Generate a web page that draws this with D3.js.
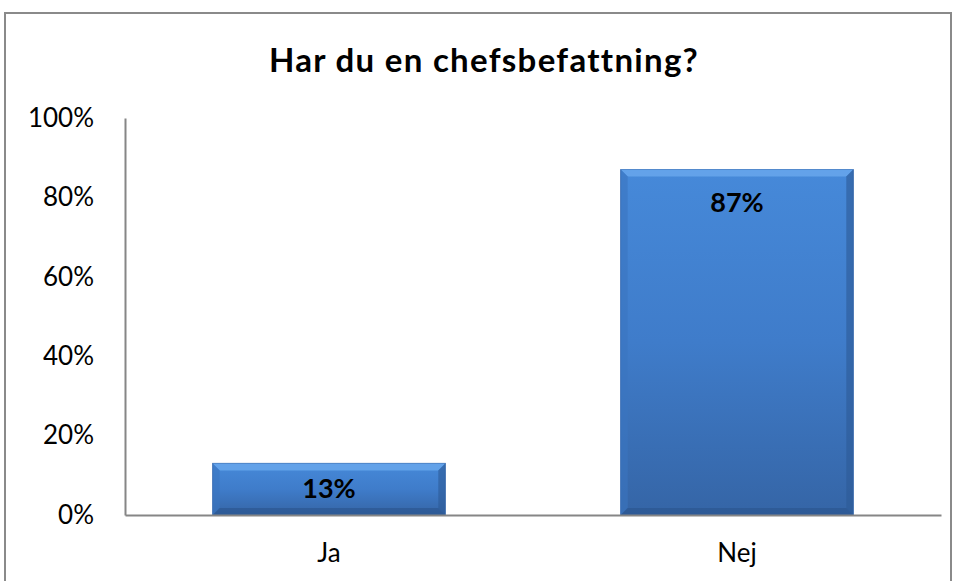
<!DOCTYPE html>
<html>
<head>
<meta charset="utf-8">
<script src="https://cdn.jsdelivr.net/npm/d3@7"></script>
<style>
  body { margin: 0; background: #fff; }
  svg { display: block; font-family: Lato, "Open Sans", sans-serif; }
</style>
</head>
<body>
<svg id="chart" width="957" height="581"></svg>
<script>
'use strict'

var title = "Har du en chefsbefattning?",
    categories = ["Ja", "Nej"],
    values = [0.13, 0.87],
    yTicks = [0, 0.2, 0.4, 0.6, 0.8, 1.0];

var width = 957,
    height = 581,
    margin = {top: 118, right: 18, bottom: 66, left: 125};

var svg = d3.select("#chart");

// frame around the chart area
svg.append("rect")
    .attr("x", 5).attr("y", 13)
    .attr("width", 946).attr("height", 600)
    .attr("fill", "#fff")
    .attr("stroke", "#8a8a8a")
    .attr("stroke-width", 2);

var defs = svg.append("defs");
var grad = defs.append("linearGradient")
    .attr("id", "barFill")
    .attr("x1", 0).attr("y1", 0).attr("x2", 0).attr("y2", 1);
grad.append("stop").attr("offset", "0%").attr("stop-color", "#4689d9");
grad.append("stop").attr("offset", "50%").attr("stop-color", "#3f7cca");
grad.append("stop").attr("offset", "100%").attr("stop-color", "#3565a6");

var x = d3.scaleBand()
    .domain(categories)
    .range([margin.left, width - margin.right + 2])
    .paddingInner(0.43)
    .paddingOuter(0.215);

var y = d3.scaleLinear()
    .domain([0, 1])
    .range([height - margin.bottom, margin.top]);

svg.append("text")
    .attr("x", 484).attr("y", 72)
    .attr("text-anchor", "middle")
    .attr("font-size", 33)
    .attr("font-weight", "bold")
    .attr("letter-spacing", 1.3)
    .attr("fill", "#000")
    .text(title);

// y axis
var yAxis = svg.append("g")
    .attr("transform", "translate(" + margin.left + ",0)")
    .call(d3.axisLeft(y).tickValues(yTicks).tickFormat(d3.format(".0%")).tickSize(0).tickPadding(31));
yAxis.select(".domain").attr("stroke", "#868686").attr("stroke-width", 2);
yAxis.selectAll("text").attr("font-size", 26).attr("fill", "#000").attr("font-family", "Lato, sans-serif");

// bars
var bars = svg.append("g").selectAll("g")
    .data(categories)
  .enter().append("g");

bars.append("rect")
    .attr("x", function(d) { return x(d); })
    .attr("y", function(d, i) { return y(values[i]); })
    .attr("width", x.bandwidth())
    .attr("height", function(d, i) { return y(0) - y(values[i]); })
    .attr("fill", "url(#barFill)")
    .attr("stroke", "#3a6cb0")
    .attr("stroke-width", 1);

// bevel: top highlight and darker sides/bottom
var b = 7;
bars.append("path")
    .attr("d", function(d, i) {
      var x0 = x(d), x1 = x0 + x.bandwidth(), y0 = y(values[i]);
      return "M" + x0 + "," + y0 + "L" + x1 + "," + y0 + "L" + (x1 - b) + "," + (y0 + b) + "L" + (x0 + b) + "," + (y0 + b) + "Z";
    })
    .attr("fill", "#6aa9ee").attr("opacity", 0.8);
bars.append("path")
    .attr("d", function(d, i) {
      var x0 = x(d), x1 = x0 + x.bandwidth(), y0 = y(values[i]), y1 = y(0);
      return "M" + x1 + "," + y0 + "L" + x1 + "," + y1 + "L" + (x1 - b) + "," + (y1 - b) + "L" + (x1 - b) + "," + (y0 + b) + "Z";
    })
    .attr("fill", "#2d5a96").attr("opacity", 0.6);
bars.append("path")
    .attr("d", function(d, i) {
      var x0 = x(d), y0 = y(values[i]), y1 = y(0);
      return "M" + x0 + "," + y0 + "L" + x0 + "," + y1 + "L" + (x0 + b) + "," + (y1 - b) + "L" + (x0 + b) + "," + (y0 + b) + "Z";
    })
    .attr("fill", "#3b74bf").attr("opacity", 0.6);
bars.append("path")
    .attr("d", function(d, i) {
      var x0 = x(d), x1 = x0 + x.bandwidth(), y1 = y(0);
      return "M" + x0 + "," + y1 + "L" + x1 + "," + y1 + "L" + (x1 - b) + "," + (y1 - b) + "L" + (x0 + b) + "," + (y1 - b) + "Z";
    })
    .attr("fill", "#2a548c").attr("opacity", 0.6);

bars.append("text")
    .attr("x", function(d) { return x(d) + x.bandwidth() / 2; })
    .attr("y", function(d, i) {
      var top = y(values[i]), mid = (top + y(0)) / 2;
      return Math.min(top + 42, mid + 9);
    })
    .attr("text-anchor", "middle")
    .attr("font-size", 27)
    .attr("font-weight", "bold")
    .attr("fill", "#000")
    .text(function(d, i) { return d3.format(".0%")(values[i]); });

// x axis
var xAxis = svg.append("g")
    .attr("transform", "translate(0," + y(0) + ")")
    .call(d3.axisBottom(x).tickSize(0).tickPadding(29).tickSizeOuter(0));
xAxis.select(".domain").attr("stroke", "#868686").attr("stroke-width", 2);
xAxis.selectAll("text").attr("font-size", 26).attr("fill", "#000").attr("font-family", "Lato, sans-serif");
</script>
</body>
</html>
